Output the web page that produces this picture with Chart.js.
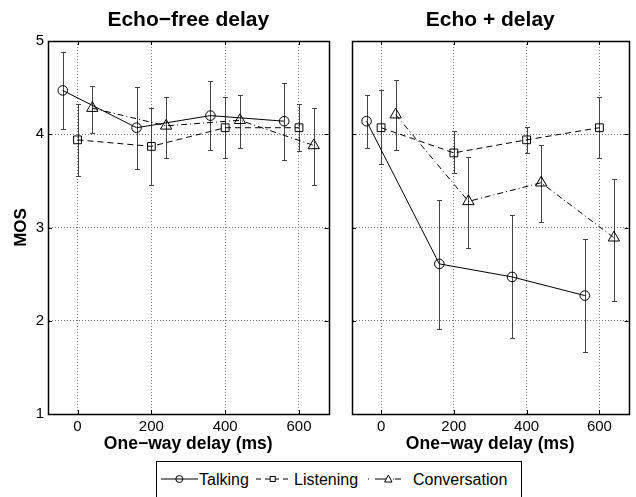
<!DOCTYPE html>
<html>
<head>
<meta charset="utf-8">
<script src="https://cdn.jsdelivr.net/npm/chart.js@4.4.0/dist/chart.umd.min.js"></script>
<style>
    body { margin: 0; background: #fff; }
    #wrap { position: relative; width: 636px; height: 497px; overflow: hidden; font-family: "Liberation Sans", Arial, sans-serif; }
    #chart-free { position: absolute; left: 0; top: 0; }
    #chart-echo { position: absolute; left: 336px; top: 0; }
    #legend { position: absolute; left: 156px; top: 461px; width: 366px; height: 50px; border: 1px solid #000; box-sizing: border-box; background: #fff; }
    #legend svg { position: absolute; left: 0; top: 0; }
    #legend span { position: absolute; top: 9px; line-height: 18px; font-size: 16px; color: #000; white-space: nowrap; }
</style>
</head>
<body>
<div id="wrap">
    <canvas id="chart-free" width="336" height="460"></canvas>
    <canvas id="chart-echo" width="300" height="460"></canvas>
    <div id="legend">
        <svg width="364" height="40">
            <line x1="4" y1="17" x2="41" y2="17" stroke="#000" stroke-width="1"/>
            <circle cx="22.3" cy="17" r="3.5" fill="none" stroke="#000" stroke-width="1"/>
            <line x1="99" y1="17" x2="131" y2="17" stroke="#000" stroke-width="1" stroke-dasharray="5 4"/>
            <rect x="113.2" y="14.5" width="5" height="5" fill="#fff" stroke="#000" stroke-width="1"/>
            <line x1="211" y1="17" x2="251" y2="17" stroke="#000" stroke-width="1" stroke-dasharray="1 6 12 6 1"/>
            <polygon points="231.3,13 235,20 227.6,20" fill="#fff" stroke="#000" stroke-width="1"/>
        </svg>
        <span id="lg-talking" style="left:42px"></span>
        <span id="lg-listening" style="left:137px"></span>
        <span id="lg-conversation" style="left:256px"></span>
    </div>
</div>
<script>
const seriesNames = ['Talking', 'Listening', 'Conversation'];
const panelTitles = ['Echo−free delay', 'Echo + delay'];
const xTitle = 'One−way delay (ms)';
const yTitle = 'MOS';
const xTicks = [0, 200, 400, 600];
const yTicks = [1, 2, 3, 4, 5];

// x positions (ms) - the three conditions are offset slightly around each delay
const talkingDelay = [-40, 160, 360, 560];
const listeningDelay = [0, 200, 400, 600];
const conversationDelay = [40, 240, 440, 640];

// Echo-free delay
const freeTalking = [4.47, 4.07, 4.20, 4.14];
const freeTalkingLow = [4.06, 3.63, 3.83, 3.72];
const freeTalkingHigh = [4.88, 4.51, 4.57, 4.55];
const freeListening = [3.94, 3.87, 4.07, 4.07];
const freeListeningLow = [3.55, 3.46, 3.74, 3.82];
const freeListeningHigh = [4.32, 4.28, 4.40, 4.32];
const freeConversation = [4.28, 4.09, 4.15, 3.88];
const freeConversationLow = [4.01, 3.74, 3.85, 3.46];
const freeConversationHigh = [4.52, 4.40, 4.42, 4.28];

// Echo + delay
const echoTalking = [4.14, 2.61, 2.47, 2.27];
const echoTalkingLow = [3.85, 1.91, 1.81, 1.66];
const echoTalkingHigh = [4.42, 3.29, 3.13, 2.88];
const echoListening = [4.07, 3.80, 3.94, 4.07];
const echoListeningLow = [3.68, 3.58, 3.80, 3.75];
const echoListeningHigh = [4.47, 4.03, 4.08, 4.40];
const echoConversation = [4.21, 3.28, 3.48, 2.89];
const echoConversationLow = [3.83, 2.78, 3.06, 2.21];
const echoConversationHigh = [4.58, 3.76, 3.88, 3.52];

document.getElementById('lg-talking').textContent = seriesNames[0];
document.getElementById('lg-listening').textContent = seriesNames[1];
document.getElementById('lg-conversation').textContent = seriesNames[2];

Chart.defaults.font.family = '"Liberation Sans", Arial, sans-serif';
Chart.defaults.color = '#000';

function points(xs, ys) {
    return xs.map((x, i) => ({ x: x, y: ys[i] }));
}

const seriesStyle = [
    { dash: [], pointStyle: 'circle', radius: 4.8 },
    { dash: [6, 4], pointStyle: 'rect', radius: 5.5 },
    { dash: [6, 3, 1, 3], pointStyle: 'triangle', radius: 6.5 }
];

function buildDatasets(groups) {
    return groups.map((g, i) => ({
        label: seriesNames[i],
        data: points(g.xs, g.ys),
        errLow: g.low,
        errHigh: g.high,
        borderColor: '#000',
        borderWidth: 1,
        borderDash: seriesStyle[i].dash,
        pointStyle: seriesStyle[i].pointStyle,
        pointRadius: seriesStyle[i].radius,
        pointBorderColor: '#000',
        pointBorderWidth: 1,
        pointBackgroundColor: 'rgba(0,0,0,0)',
        fill: false,
        tension: 0
    }));
}

// vertical error bars with small caps
const errorBars = {
    id: 'errorBars',
    beforeDatasetsDraw(chart) {
        const ctx = chart.ctx;
        const yScale = chart.scales.y;
        ctx.save();
        ctx.strokeStyle = '#444';
        ctx.lineWidth = 1;
        chart.data.datasets.forEach((ds, i) => {
            chart.getDatasetMeta(i).data.forEach((pt, j) => {
                const px = Math.round(pt.x) + 0.5;
                const top = Math.round(yScale.getPixelForValue(ds.errHigh[j])) + 0.5;
                const bot = Math.round(yScale.getPixelForValue(ds.errLow[j])) + 0.5;
                ctx.beginPath();
                ctx.moveTo(px, top);
                ctx.lineTo(px, bot);
                ctx.moveTo(px - 2.5, top);
                ctx.lineTo(px + 2.5, top);
                ctx.moveTo(px - 2.5, bot);
                ctx.lineTo(px + 2.5, bot);
                ctx.stroke();
            });
        });
        ctx.restore();
    }
};

// box around the plot with inward tick marks on all four sides
const frameBox = {
    id: 'frameBox',
    afterDraw(chart) {
        const ctx = chart.ctx;
        const a = chart.chartArea;
        const xs = chart.scales.x, ys = chart.scales.y;
        ctx.save();
        ctx.strokeStyle = '#000';
        ctx.lineWidth = 1;
        ctx.beginPath();
        xs.ticks.forEach(t => {
            const px = Math.round(xs.getPixelForValue(t.value)) + 0.5;
            ctx.moveTo(px, a.top); ctx.lineTo(px, a.top + 4);
            ctx.moveTo(px, a.bottom); ctx.lineTo(px, a.bottom - 4);
        });
        ys.ticks.forEach(t => {
            const py = Math.round(ys.getPixelForValue(t.value)) + 0.5;
            ctx.moveTo(a.left, py); ctx.lineTo(a.left + 4, py);
            ctx.moveTo(a.right, py); ctx.lineTo(a.right - 4, py);
        });
        ctx.stroke();
        ctx.lineWidth = 1.5;
        ctx.strokeRect(Math.round(a.left) + 0.5, Math.round(a.top) + 0.5,
            Math.round(a.right - a.left), Math.round(a.bottom - a.top));
        ctx.restore();
    }
};

function makeChart(canvasId, title, groups, showYLabels, yAxisWidth, padRight) {
    const ctx = document.getElementById(canvasId).getContext('2d');
    return new Chart(ctx, {
        type: 'line',
        data: { datasets: buildDatasets(groups) },
        options: {
            responsive: false,
            animation: false,
            layout: { padding: { left: 0, right: padRight, top: 0, bottom: 0 } },
            plugins: {
                legend: { display: false },
                tooltip: { enabled: false },
                title: {
                    display: true,
                    text: title,
                    fullSize: false,
                    color: '#000',
                    font: { size: 21, weight: 'bold' },
                    padding: { top: 8, bottom: 7.8 }
                }
            },
            scales: {
                x: {
                    type: 'linear',
                    min: -80,
                    max: 680,
                    afterBuildTicks: s => { s.ticks = xTicks.map(v => ({ value: v })); },
                    afterFit: s => { s.height = 46; },
                    grid: { color: '#777', lineWidth: 1, drawTicks: false },
                    border: { display: true, color: '#000', dash: [1, 2] },
                    ticks: { color: '#000', font: { size: 15 }, padding: 4, maxRotation: 0 },
                    title: {
                        display: true,
                        text: xTitle,
                        color: '#000',
                        font: { size: 17.5, weight: 'bold' },
                        padding: { top: 0, bottom: 5.5 }
                    }
                },
                y: {
                    min: 1,
                    max: 5,
                    afterBuildTicks: s => { s.ticks = yTicks.map(v => ({ value: v })); },
                    afterFit: s => { s.width = yAxisWidth; },
                    grid: { color: '#777', lineWidth: 1, drawTicks: false },
                    border: { display: true, color: '#000', dash: [1, 2] },
                    ticks: { display: showYLabels, color: '#000', font: { size: 15 }, padding: 4 },
                    title: {
                        display: showYLabels,
                        text: yTitle,
                        color: '#000',
                        font: { size: 17, weight: 'bold' },
                        padding: { top: 11, bottom: 0 }
                    }
                }
            }
        },
        plugins: [errorBars, frameBox]
    });
}

makeChart('chart-free', panelTitles[0], [
    { xs: talkingDelay, ys: freeTalking, low: freeTalkingLow, high: freeTalkingHigh },
    { xs: listeningDelay, ys: freeListening, low: freeListeningLow, high: freeListeningHigh },
    { xs: conversationDelay, ys: freeConversation, low: freeConversationLow, high: freeConversationHigh }
], true, 48, 6);

makeChart('chart-echo', panelTitles[1], [
    { xs: talkingDelay, ys: echoTalking, low: echoTalkingLow, high: echoTalkingHigh },
    { xs: listeningDelay, ys: echoListening, low: echoListeningLow, high: echoListeningHigh },
    { xs: conversationDelay, ys: echoConversation, low: echoConversationLow, high: echoConversationHigh }
], false, 16, 3);
</script>
</body>
</html>
